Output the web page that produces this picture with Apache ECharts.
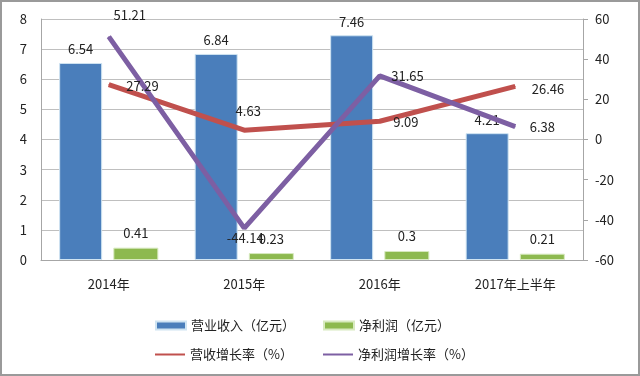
<!DOCTYPE html>
<html>
<head>
<meta charset="utf-8">
<script src="https://cdn.jsdelivr.net/npm/echarts@6/dist/echarts.min.js"></script>
<style>
  html, body { margin: 0; padding: 0; background: #fff; }
  #main { width: 640px; height: 376px; box-sizing: border-box; border: 2px solid #9a9a9a; }
</style>
</head>
<body>
<div id="main"></div>
<script>
// 数据
var categories = ['2014年', '2015年', '2016年', '2017年上半年'];
var revenue = [6.54, 6.84, 7.46, 4.21];
var profit = [0.41, 0.23, 0.3, 0.21];
var revenueGrowth = [27.29, 4.63, 9.09, 26.46];
var profitGrowth = [51.21, -44.14, 31.65, 6.38];
var leftTicks = [0, 8, 1];
var rightTicks = [-60, 60, 20];

var font = '"Noto Sans CJK SC", sans-serif';
var lineIcon = 'path://M0,0H30V2H0Z';

// 折线标签位置
var redLabelPos = [
  { position: 'right', offset: [12, 1] },
  { position: 'top', offset: [4, -7] },
  { position: 'right', offset: [8, 1] },
  { position: 'right', offset: [11, 3] }
];
var purpleLabelPos = [
  { position: 'top', offset: [21, -10] },
  { position: 'bottom', offset: [1, -2] },
  { position: 'right', offset: [6, 0] },
  { position: 'right', offset: [9, 0] }
];

function withLabels(values, pos) {
  return values.map(function (v, i) {
    return { value: v, label: pos[i] };
  });
}

function legendItem(name, left, top, icon) {
  return {
    left: left, top: top, itemWidth: 30, itemHeight: 8,
    icon: icon,
    textStyle: { fontSize: 13, color: '#222', fontFamily: font },
    data: [name]
  };
}

var chart = echarts.init(document.getElementById('main'));
var option = {
  animation: false,
  textStyle: { fontFamily: font },
  grid: { left: 39, right: 55, top: 17, bottom: 114 },
  legend: [
    legendItem('营业收入（亿元）', 148, 312, 'rect'),
    legendItem('净利润（亿元）', 316, 312, 'rect'),
    legendItem('营收增长率（%）', 148, 341, lineIcon),
    legendItem('净利润增长率（%）', 316, 341, lineIcon)
  ],
  xAxis: {
    type: 'category',
    data: categories,
    axisLine: { lineStyle: { color: '#a6a6a6' } },
    axisTick: { show: false },
    axisLabel: { color: '#222', fontSize: 13, margin: 18, fontFamily: font }
  },
  yAxis: [
    {
      type: 'value',
      min: leftTicks[0], max: leftTicks[1], interval: leftTicks[2],
      axisLine: { show: true, lineStyle: { color: '#a6a6a6' } },
      axisTick: { show: false },
      splitLine: { lineStyle: { color: '#bfbfbf' } },
      axisLabel: { color: '#222', fontSize: 13, margin: 14 }
    },
    {
      type: 'value',
      min: rightTicks[0], max: rightTicks[1], interval: rightTicks[2],
      axisLine: { show: true, lineStyle: { color: '#a6a6a6' } },
      axisTick: { show: true, length: 5, lineStyle: { color: '#a6a6a6' } },
      splitLine: { show: false },
      axisLabel: { color: '#222', fontSize: 13, margin: 12 }
    }
  ],
  series: [
    {
      name: '营业收入（亿元）',
      type: 'bar',
      data: revenue,
      barWidth: 43,
      barGap: '26%',
      itemStyle: { color: '#4A7EBB', borderColor: '#cfe4f2', borderWidth: 1 },
      label: { show: true, position: 'top', distance: 7, color: '#222', fontSize: 13 }
    },
    {
      name: '净利润（亿元）',
      type: 'bar',
      data: profit,
      barWidth: 45,
      itemStyle: { color: '#8DB94F', borderColor: '#d8eac0', borderWidth: 1 },
      label: { show: true, position: 'top', distance: 8, color: '#222', fontSize: 13 }
    },
    {
      name: '营收增长率（%）',
      type: 'line',
      yAxisIndex: 1,
      data: withLabels(revenueGrowth, redLabelPos),
      symbol: 'circle',
      symbolSize: 1,
      showAllSymbol: true,
      lineStyle: { color: '#C0504D', width: 5 },
      itemStyle: { color: '#C0504D' },
      label: { show: true, color: '#222', fontSize: 13 }
    },
    {
      name: '净利润增长率（%）',
      type: 'line',
      yAxisIndex: 1,
      data: withLabels(profitGrowth, purpleLabelPos),
      symbol: 'circle',
      symbolSize: 1,
      showAllSymbol: true,
      lineStyle: { color: '#7D5FA3', width: 5 },
      itemStyle: { color: '#7D5FA3' },
      label: { show: true, color: '#222', fontSize: 13 }
    }
  ]
};
chart.setOption(option);
</script>
</body>
</html>
